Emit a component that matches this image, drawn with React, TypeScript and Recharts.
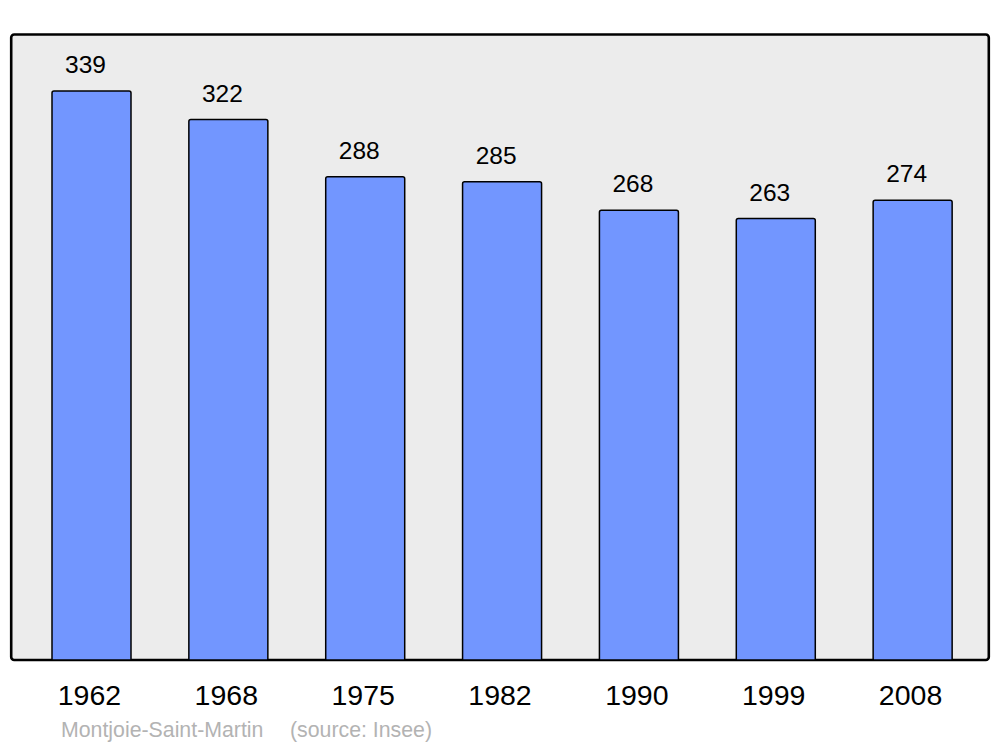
import { Bar, BarChart, LabelList, XAxis, YAxis } from 'recharts';

const YEARS = ['1962', '1968', '1975', '1982', '1990', '1999', '2008'];
const POPULATION = [339, 322, 288, 285, 268, 263, 274];
const Y_MAX = 373;

const BAR_FILL = '#7296ff';
const PANEL = '#ececec';
const FONT = '"Liberation Sans", Arial, sans-serif';

const rows = YEARS.map((year, i) => ({ year, pop: POPULATION[i] }));

// value above each bar: baseline 18px over the bar top, nudged a bit left like the original
const ValueLabel = (props: any) => {
  const { x, y, width, value } = props;
  return (
    <text
      x={Number(x) + Number(width) / 2 - 6}
      y={Number(y) - 18}
      textAnchor="middle"
      fontSize={24.5}
      fontFamily={FONT}
      fill="#000"
    >
      {value}
    </text>
  );
};

export default function App() {
  return (
    <div style={{ position: 'absolute', top: 0, left: 0, width: 1000, height: 747, background: '#fff' }}>
      <svg width={1000} height={747} style={{ position: 'absolute', top: 0, left: 0 }}>
        <rect x={11.2} y={34.5} width={977.6} height={625.5} rx={3} fill={PANEL} stroke="#000" strokeWidth={2.6} />
        <text x={61} y={736.5} fontSize={21.3} fontFamily={FONT} fill="#b3b3b3">
          Montjoie-Saint-Martin
        </text>
        <text x={290} y={736.5} fontSize={21.3} fontFamily={FONT} fill="#b3b3b3">
          (source: Insee)
        </text>
      </svg>
      <div style={{ position: 'absolute', top: 0, left: 0 }}>
        <BarChart
          width={1000}
          height={747}
          data={rows}
          margin={{ top: 34, right: 19, left: 23, bottom: 27 }}
        >
          <XAxis
            dataKey="year"
            height={60}
            axisLine={false}
            tickLine={false}
            tickSize={0}
            tickMargin={25}
            interval={0}
            tick={{ fontSize: 28.5, fill: '#000', fontFamily: FONT, dx: -2 }}
          />
          <YAxis hide domain={[0, Y_MAX]} />
          <Bar
            dataKey="pop"
            barSize={79}
            fill={BAR_FILL}
            stroke="#000"
            strokeWidth={1.5}
            radius={[2, 2, 0, 0]}
            isAnimationActive={false}
          >
            <LabelList dataKey="pop" content={ValueLabel} />
          </Bar>
        </BarChart>
      </div>
    </div>
  );
}
